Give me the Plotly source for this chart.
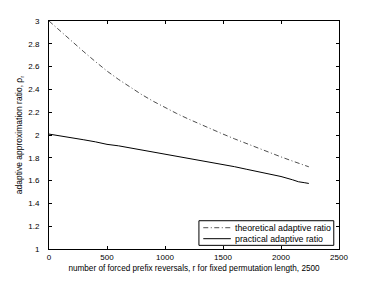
import plotly.graph_objects as go

r_theory = [0, 100, 200, 300, 400, 500, 600, 700, 800, 900, 1000, 1100, 1200,
            1300, 1400, 1500, 1600, 1700, 1800, 1900, 2000, 2100, 2200, 2240]
theoretical = [3.0, 2.908, 2.818, 2.73, 2.644, 2.561, 2.487, 2.418, 2.354, 2.295,
               2.24, 2.189, 2.141, 2.095, 2.051, 2.008, 1.966, 1.925, 1.885,
               1.846, 1.808, 1.771, 1.735, 1.721]

r_practical = [0, 50, 100, 150, 200, 300, 400, 500, 600, 700, 800, 900, 1000,
               1100, 1200, 1300, 1400, 1500, 1600, 1700, 1800, 1900, 2000,
               2100, 2150, 2200, 2240]
practical = [2.008, 2.0, 1.995, 1.985, 1.978, 1.958, 1.94, 1.918, 1.905, 1.887,
             1.87, 1.852, 1.836, 1.818, 1.80, 1.782, 1.762, 1.743, 1.722, 1.70,
             1.68, 1.66, 1.636, 1.607, 1.59, 1.582, 1.575]

series_names = ["theoretical adaptive ratio", "practical adaptive ratio"]
x_ticks = [0, 500, 1000, 1500, 2000, 2500]
y_ticks = [1, 1.2, 1.4, 1.6, 1.8, 2, 2.2, 2.4, 2.6, 2.8, 3]

DASHDOT = "5px,2.5px,1px,2.5px"
styles = [dict(color="black", width=0.7, dash=DASHDOT),
          dict(color="black", width=1, dash="solid")]

fig = go.Figure()
fig.add_trace(go.Scatter(x=r_theory, y=theoretical, mode="lines",
                         name=series_names[0], line=styles[0], showlegend=False))
fig.add_trace(go.Scatter(x=r_practical, y=practical, mode="lines",
                         name=series_names[1], line=styles[1], showlegend=False))

# MATLAB-style legend box (lower right), drawn in paper coordinates
fig.add_shape(type="rect", xref="paper", yref="paper", x0=0.517, x1=0.982,
              y0=0.016, y1=0.124, line=dict(color="black", width=1),
              fillcolor="white", layer="above")
row_y = [0.0934, 0.0452]
for name, st, yy in zip(series_names, styles, row_y):
    fig.add_shape(type="line", xref="paper", yref="paper", x0=0.532, x1=0.627,
                  y0=yy, y1=yy, line=st, layer="above")
    fig.add_annotation(xref="paper", yref="paper", x=0.634, y=yy, text=name,
                       showarrow=False, xanchor="left", yanchor="middle",
                       font=dict(size=8.8, color="black"))

axis_common = dict(showgrid=False, zeroline=False, showline=True, linecolor="black",
                   linewidth=1, mirror="ticks", ticks="inside", ticklen=3,
                   tickcolor="black", tickfont=dict(size=8, color="black"),
                   automargin=False)

# page body has an 8px margin: figure shrunk and margins offset to compensate
fig.update_layout(
    width=366, height=273,
    margin=dict(l=41, r=35, t=13, b=32),
    paper_bgcolor="white", plot_bgcolor="white",
    font=dict(family="Liberation Sans, Arial, sans-serif", size=8, color="black"),
    xaxis=dict(range=[0, 2500], tickvals=x_ticks,
               title=dict(text="number of forced prefix reversals, r for fixed permutation length, 2500",
                          font=dict(size=8.2), standoff=4),
               **axis_common),
    yaxis=dict(range=[1, 3], tickvals=y_ticks, ticklabelstandoff=7,
               title=dict(text="adaptive approximation ratio, ρ<sub>r</sub>",
                          font=dict(size=8.5), standoff=4),
               **axis_common),
    showlegend=False,
)

fig.write_html("out.html")
